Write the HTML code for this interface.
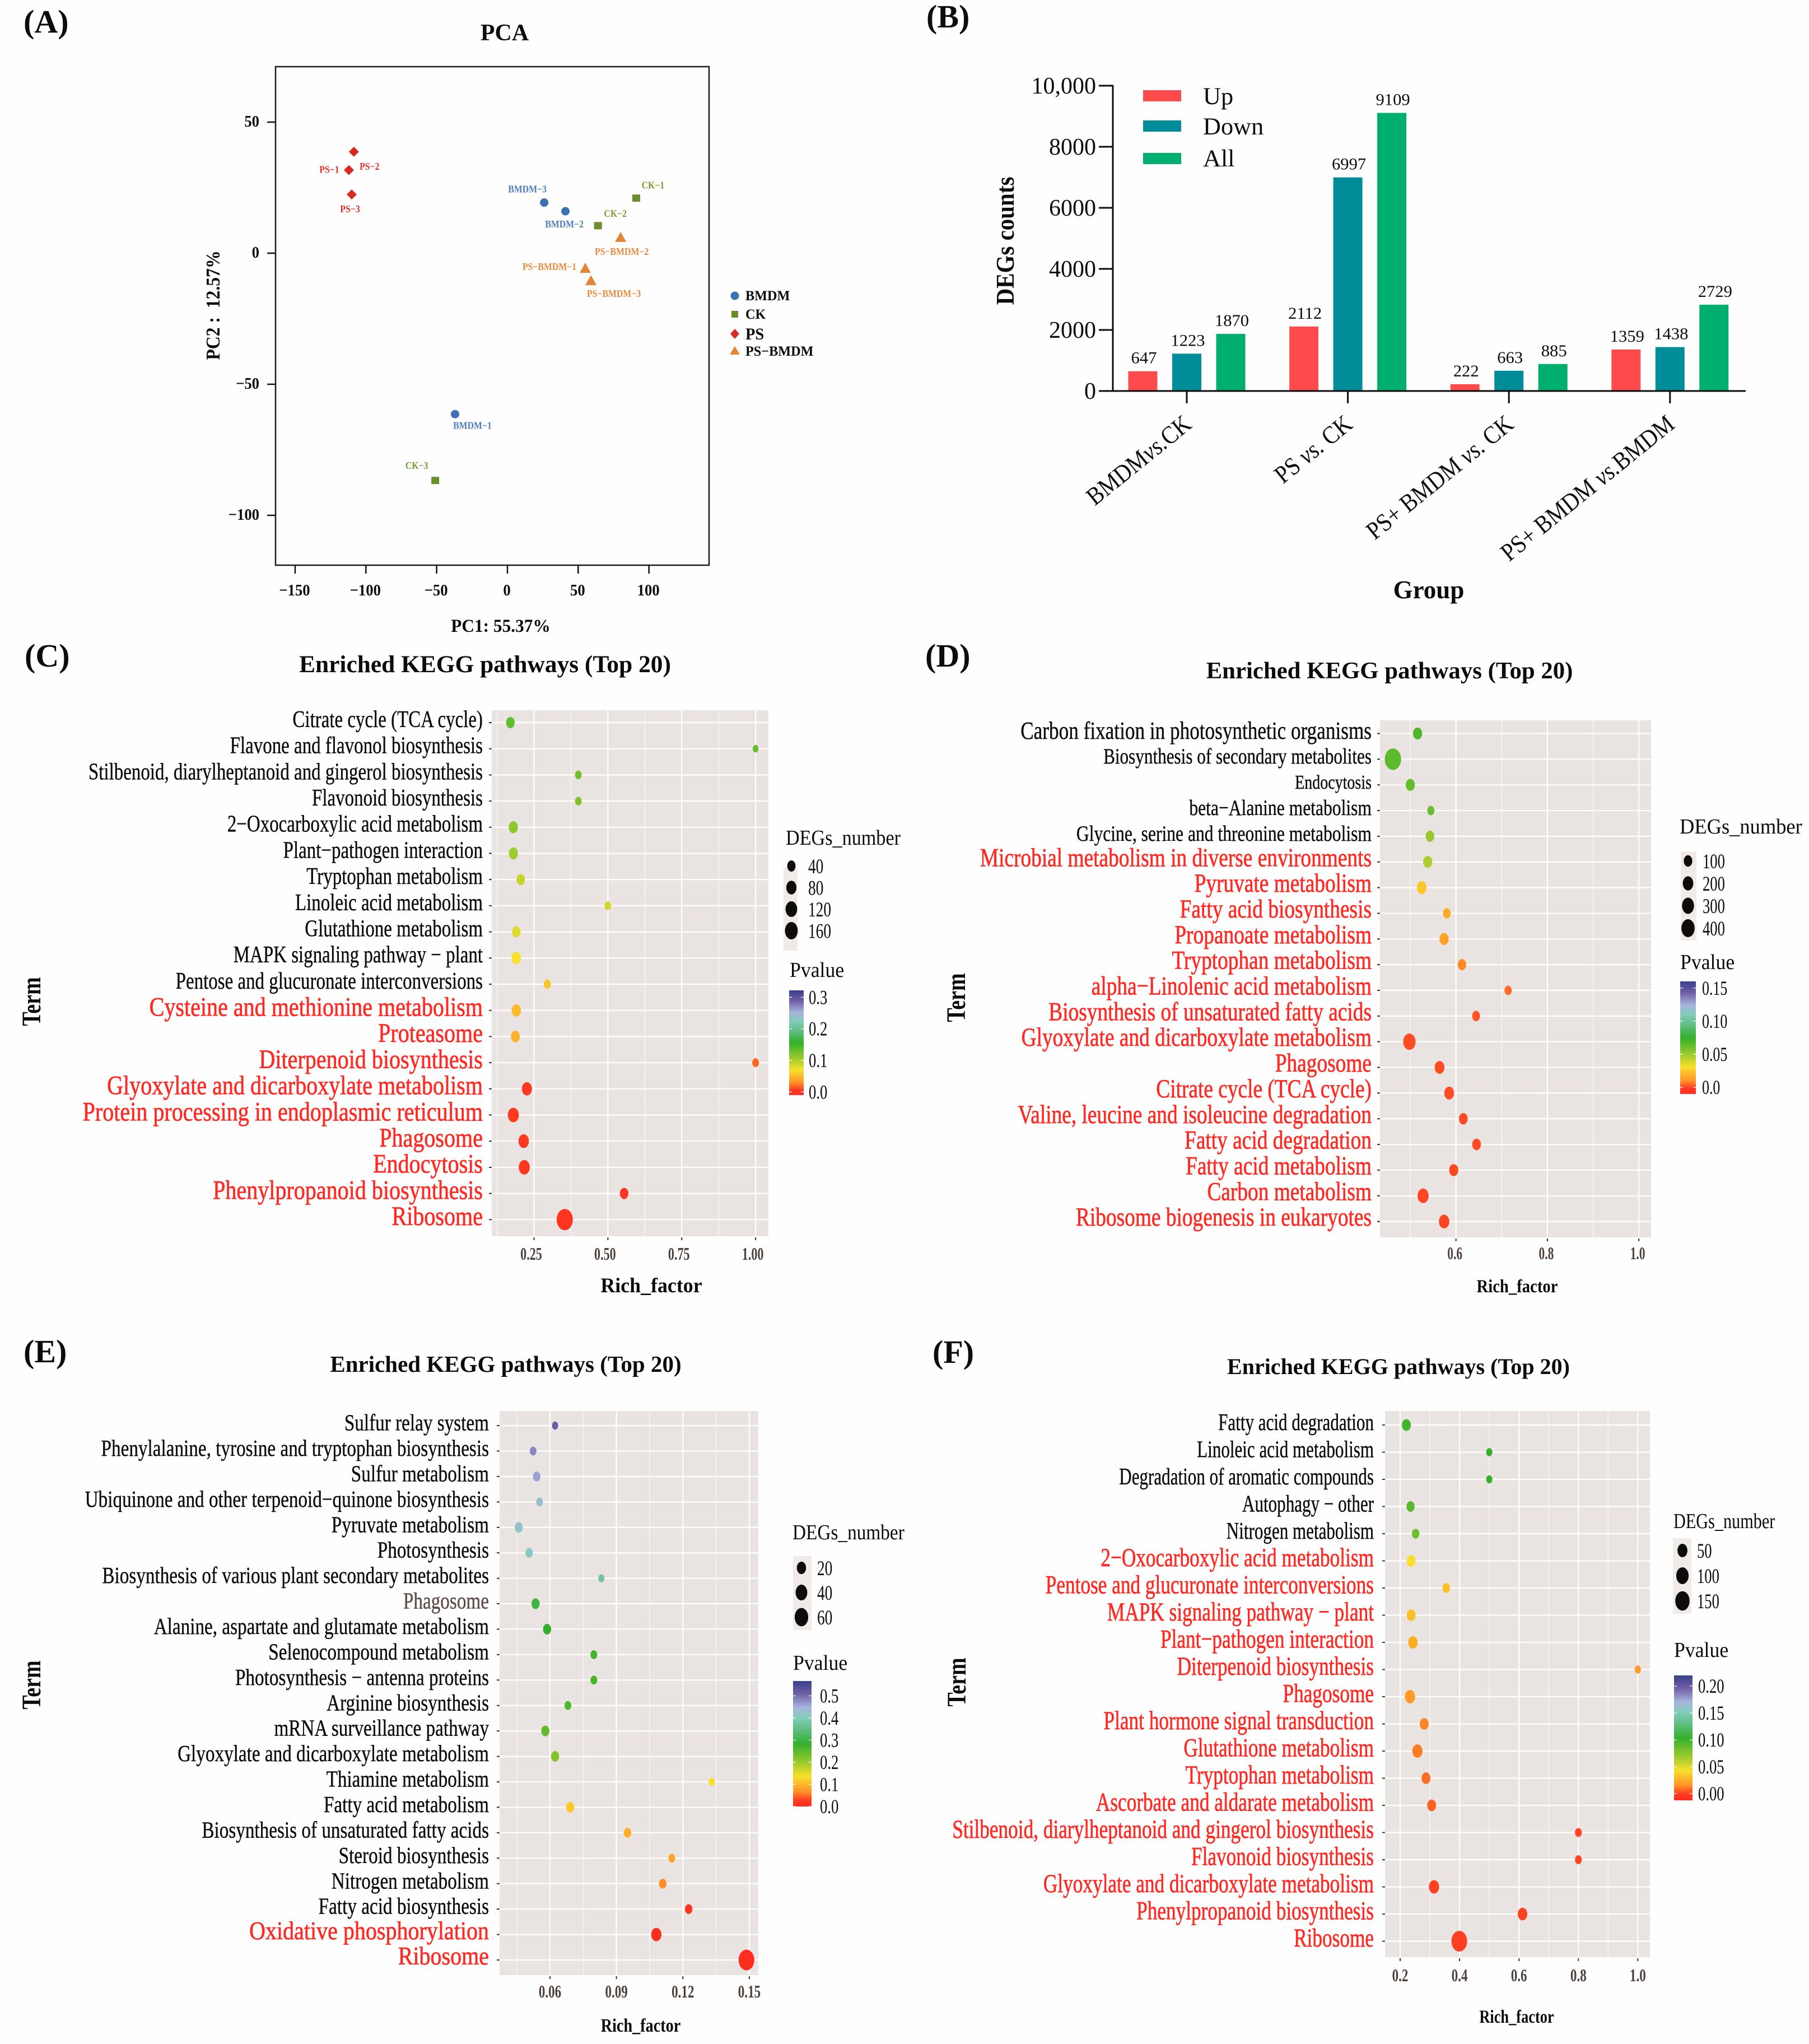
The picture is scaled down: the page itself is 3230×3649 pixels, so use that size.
<!DOCTYPE html>
<html lang="en">
<head>
<meta charset="utf-8">
<title>PCA, DEG counts and KEGG enrichment figure</title>
<style>
html,body{margin:0;padding:0;background:#fff;}
svg{display:block;font-family:"Liberation Serif","Times New Roman",serif;}
text{white-space:pre;}
</style>
</head>
<body>
<svg id="figure" xmlns="http://www.w3.org/2000/svg" width="3230" height="3649" viewBox="0 0 3230 3649">
<rect x="0" y="0" width="3230" height="3649" fill="#fffefe"/>
<defs id="defs"></defs>
</svg>
<script>
/* ---------- Panel A data ---------- */
const pcaSamples = ["BMDM-1","BMDM-2","BMDM-3","CK-1","CK-2","CK-3","PS-1","PS-2","PS-3","PS-BMDM-1","PS-BMDM-2","PS-BMDM-3"];
const pcaPrinted = ["BMDM−1","BMDM−2","BMDM−3","CK−1","CK−2","CK−3","PS−1","PS−2","PS−3","PS−BMDM−1","PS−BMDM−2","PS−BMDM−3"];
const pcaGroupOf = ["BMDM","BMDM","BMDM","CK","CK","CK","PS","PS","PS","PS-BMDM","PS-BMDM","PS-BMDM"];
const pcaPC1 = [-37,41,26,91,64,-51,-112,-108.5,-110,55,80,59];
const pcaPC2 = [-61.4,16,19.3,21,10.5,-86.7,31.7,38.7,22.4,-5.8,6,-10.5];
const pcaLegendGroups = ["BMDM","CK","PS","PS−BMDM"];
const pcaXTicks = [-150,-100,-50,0,50,100];
const pcaYTicks = [50,0,-50,-100];

/* ---------- Panel B data ---------- */
const degGroups = [["BMDM","vs.","CK"],["PS ","vs."," CK"],["PS+ BMDM ","vs."," CK"],["PS+ BMDM ","vs.","BMDM"]];
const degUp = [647,2112,222,1359];
const degDown = [1223,6997,663,1438];
const degAll = [1870,9109,885,2826];
const degUpPrinted = ["647","2112","222","1359"];
const degDownPrinted = ["1223","6997","663","1438"];
const degAllPrinted = ["1870","9109","885","2729"];
const degYTicks = [0,2000,4000,6000,8000,10000];
const degYTickLabels = ["0","2000","4000","6000","8000","10,000"];
const degSeriesNames = ["Up","Down","All"];

/* ---------- Panel C data ---------- */
const cTerms = ["Citrate cycle (TCA cycle)","Flavone and flavonol biosynthesis","Stilbenoid, diarylheptanoid and gingerol biosynthesis","Flavonoid biosynthesis","2−Oxocarboxylic acid metabolism","Plant−pathogen interaction","Tryptophan metabolism","Linoleic acid metabolism","Glutathione metabolism","MAPK signaling pathway − plant","Pentose and glucuronate interconversions","Cysteine and methionine metabolism","Proteasome","Diterpenoid biosynthesis","Glyoxylate and dicarboxylate metabolism","Protein processing in endoplasmic reticulum","Phagosome","Endocytosis","Phenylpropanoid biosynthesis","Ribosome"];
const cRich = [.17,1,.40,.40,.18,.18,.205,.50,.19,.19,.295,.19,.187,1,.226,.18,.215,.217,.555,.354];
const cPvalue = [.135,.13,.125,.12,.115,.105,.09,.085,.08,.07,.055,.05,.045,.018,.005,.005,.004,.003,.002,0];
const cCount = [40,7,14,14,51,51,40,14,40,55,20,55,45,16,72,96,80,96,40,278];
const cXTicks = [.25,.5,.75,1];
const cXTickLabels = ["0.25","0.50","0.75","1.00"];
const cSizeLegend = [40,80,120,160];
const cPvalueTicks = [0,.1,.2,.3];
const cPvalueTickLabels = ["0.0","0.1","0.2","0.3"];

/* ---------- Panel D data ---------- */
const dTerms = ["Carbon fixation in photosynthetic organisms","Biosynthesis of secondary metabolites","Endocytosis","beta−Alanine metabolism","Glycine, serine and threonine metabolism","Microbial metabolism in diverse environments","Pyruvate metabolism","Fatty acid biosynthesis","Propanoate metabolism","Tryptophan metabolism","alpha−Linolenic acid metabolism","Biosynthesis of unsaturated fatty acids","Glyoxylate and dicarboxylate metabolism","Phagosome","Citrate cycle (TCA cycle)","Valine, leucine and isoleucine degradation","Fatty acid degradation","Fatty acid metabolism","Carbon metabolism","Ribosome biogenesis in eukaryotes"];
const dRich = [.516,.462,.50,.545,.543,.538,.525,.58,.574,.613,.714,.644,.498,.564,.585,.616,.645,.595,.528,.574];
const dPvalue = [.068,.065,.063,.061,.051,.046,.024,.016,.014,.009,.005,.002,.001,.001,.0008,.0007,.0006,.0004,.0003,.0002];
const dCount = [115,656,115,45,90,115,146,65,115,90,45,65,307,146,146,100,100,115,217,182];
const dXTicks = [.6,.8,1];
const dXTickLabels = ["0.6","0.8","1.0"];
const dSizeLegend = [100,200,300,400];
const dPvalueTicks = [0,.05,.1,.15];
const dPvalueTickLabels = ["0.0","0.05","0.10","0.15"];

/* ---------- Panel E data ---------- */
const eTerms = ["Sulfur relay system","Phenylalanine, tyrosine and tryptophan biosynthesis","Sulfur metabolism","Ubiquinone and other terpenoid−quinone biosynthesis","Pyruvate metabolism","Photosynthesis","Biosynthesis of various plant secondary metabolites","Phagosome","Alanine, aspartate and glutamate metabolism","Selenocompound metabolism","Photosynthesis − antenna proteins","Arginine biosynthesis","mRNA surveillance pathway","Glyoxylate and dicarboxylate metabolism","Thiamine metabolism","Fatty acid metabolism","Biosynthesis of unsaturated fatty acids","Steroid biosynthesis","Nitrogen metabolism","Fatty acid biosynthesis","Oxidative phosphorylation","Ribosome"];
const eRich = [.0623,.0524,.054,.0553,.0459,.0506,.0832,.0535,.0587,.0798,.0798,.0681,.0579,.0623,.133,.0691,.095,.115,.1109,.1226,.108,.1487];
const ePvalue = [.51,.48,.46,.43,.42,.41,.375,.30,.285,.27,.265,.26,.245,.22,.135,.115,.09,.082,.065,.02,.006,0];
const eCount = [4,6,9,6,12,9,4,12,12,6,6,6,12,12,4,12,9,6,9,9,25,82];
const eXTicks = [.06,.09,.12,.15];
const eXTickLabels = ["0.06","0.09","0.12","0.15"];
const eSizeLegend = [20,40,60];
const ePvalueTicks = [0,.1,.2,.3,.4,.5];
const ePvalueTickLabels = ["0.0","0.1","0.2","0.3","0.4","0.5"];

/* ---------- Panel F data ---------- */
const fTerms = ["Fatty acid degradation","Linoleic acid metabolism","Degradation of aromatic compounds","Autophagy − other","Nitrogen metabolism","2−Oxocarboxylic acid metabolism","Pentose and glucuronate interconversions","MAPK signaling pathway − plant","Plant−pathogen interaction","Diterpenoid biosynthesis","Phagosome","Plant hormone signal transduction","Glutathione metabolism","Tryptophan metabolism","Ascorbate and aldarate metabolism","Stilbenoid, diarylheptanoid and gingerol biosynthesis","Flavonoid biosynthesis","Glyoxylate and dicarboxylate metabolism","Phenylpropanoid biosynthesis","Ribosome"];
const fRich = [.221,.50,.50,.235,.252,.237,.355,.237,.243,1,.233,.281,.258,.287,.306,.80,.80,.314,.612,.399];
const fPvalue = [.099,.104,.104,.092,.085,.043,.032,.032,.025,.018,.018,.013,.011,.008,.006,.001,.001,.0005,.0005,0];
const fCount = [31,6,6,22,15,31,15,31,40,6,50,31,50,31,31,10,10,50,40,180];
const fXTicks = [.2,.4,.6,.8,1];
const fXTickLabels = ["0.2","0.4","0.6","0.8","1.0"];
const fSizeLegend = [50,100,150];
const fPvalueTicks = [0,.05,.1,.15,.2];
const fPvalueTickLabels = ["0.00","0.05","0.10","0.15","0.20"];

/* ---------- helpers ---------- */
const NS = "http://www.w3.org/2000/svg";
const root = document.getElementById("figure");
const defs = document.getElementById("defs");

function shape(parent, tag, name, attrs) {
  const el = document.createElementNS(NS, tag);
  for (const k in attrs) el.setAttribute(k, attrs[k]);
  
  
  parent.appendChild(el);
  return el;
}
function group(parent, name) {
  const el = document.createElementNS(NS, "g");
  
  
  parent.appendChild(el);
  return el;
}
function label(parent, name, str, x, y, size, o) {
  o = o || {};
  const el = document.createElementNS(NS, "text");
  const sx = o.sx || 1, sy = o.sy || 1, rot = o.rot || 0;
  el.setAttribute("transform", "translate(" + x + "," + y + ")" + (rot ? " rotate(" + rot + ")" : "") + " scale(" + sx + "," + sy + ")");
  el.setAttribute("font-size", size);
  el.setAttribute("text-anchor", o.anchor || "start");
  el.setAttribute("fill", o.fill || "#0c0c0c");
  if (o.bold) el.setAttribute("font-weight", "bold");
  if (o.stroke) { el.setAttribute("stroke", o.fill || "#0c0c0c"); el.setAttribute("stroke-width", o.stroke); }
  el.textContent = str;
  
  
  parent.appendChild(el);
  return el;
}
function slug(s) { return String(s).toLowerCase().replace(/[^a-z0-9]+/g, "-").replace(/^-|-$/g, ""); }

/* Panel letters */
const panelLetters = [["(A)",42,58],["(B)",1654,49],["(C)",44,1190],["(D)",1652,1190],["(E)",42,2432],["(F)",1665,2433]];
panelLetters.forEach(function (p) {
  label(root, "panel-label-" + p[0].charAt(1).toLowerCase(), p[0], p[1], p[2], 58, { bold: true });
});

/* ---------- Panel A: PCA ---------- */
(function () {
  const g = group(root, "panel-a-pca");
  const frame = { l: 492, r: 1266, t: 119, b: 1009 };
  const xPos = v => 906 + v * 2.527;
  const yPos = v => 452 - v * 4.68;
  const colors = { "BMDM": "#3c72b4", "CK": "#6b8e2a", "PS": "#d92a22", "PS-BMDM": "#e48436" };
  const labelColors = { "BMDM": "#4b7fbd", "CK": "#7a9a30", "PS": "#e8302a", "PS-BMDM": "#ea8a3e" };
  /* label layout offsets from each marker (not data) */
  const labelLayout = [[31,26],[-2,29],[-30,-18],[30,-17],[31,-16],[-33,-21],[-35,5],[28,32],[-3,32],[-64,3],[2,31],[41,29]];

  function marker(parent, name, grp, x, y) {
    const fill = colors[grp];
    if (grp === "BMDM") return shape(parent, "ellipse", name, { cx: x, cy: y, rx: 7.5, ry: 7.5, fill: fill });
    if (grp === "CK") return shape(parent, "rect", name, { x: x - 7, y: y - 6.5, width: 14, height: 13, fill: fill });
    if (grp === "PS") return shape(parent, "polygon", name, { points: [x, y - 9, x + 9, y, x, y + 9, x - 9, y].join(","), fill: fill });
    return shape(parent, "polygon", name, { points: [x, y - 10, x + 10, y + 8, x - 10, y + 8].join(","), fill: fill });
  }

  label(g, "pca-title", "PCA", 901, 72, 42, { bold: true, anchor: "middle" });
  shape(g, "rect", "pca-plot-frame", { x: frame.l, y: frame.t, width: frame.r - frame.l, height: frame.b - frame.t, fill: "none", stroke: "#1a1a1a", "stroke-width": 2.5 });
  pcaXTicks.forEach(function (v) {
    shape(g, "line", "pca-x-tick", { x1: xPos(v), x2: xPos(v), y1: frame.b, y2: frame.b + 15, stroke: "#111", "stroke-width": 2.5 });
    label(g, "pca-x-tick-label", String(v).replace("-", "−"), xPos(v) - 1, 1063, 29, { bold: true, anchor: "middle", sx: .92 });
  });
  pcaYTicks.forEach(function (v) {
    shape(g, "line", "pca-y-tick", { x1: frame.l - 15, x2: frame.l, y1: yPos(v), y2: yPos(v), stroke: "#111", "stroke-width": 2.5 });
    label(g, "pca-y-tick-label", String(v).replace("-", "−"), 463, yPos(v) + 8, 29, { bold: true, anchor: "end", sx: .92 });
  });
  pcaSamples.forEach(function (s, i) {
    const x = xPos(pcaPC1[i]), y = yPos(pcaPC2[i]), grp = pcaGroupOf[i];
    marker(g, "pca-point-" + slug(s), grp, x, y);
    label(g, "pca-point-label-" + slug(s), pcaPrinted[i], x + labelLayout[i][0], y + labelLayout[i][1], 18, { bold: true, anchor: "middle", fill: labelColors[grp], sx: .88 });
  });
  label(g, "pca-x-axis-title", "PC1: 55.37%", 894, 1128, 33, { bold: true, anchor: "middle", sx: .95 });
  label(g, "pca-y-axis-title", "PC2 :  12.57%", 392, 545, 33, { bold: true, anchor: "middle", rot: -90, sx: .96, sy: 1.05 });

  const legendY = [528, 561, 596, 627];
  const legendKeys = ["BMDM", "CK", "PS", "PS-BMDM"];
  legendKeys.forEach(function (k, i) {
    const cell = group(g, "pca-legend-entry-" + slug(k));
    if (k === "BMDM") shape(cell, "ellipse", "pca-legend-marker", { cx: 1312, cy: legendY[i], rx: 7.5, ry: 7.5, fill: colors[k] });
    else if (k === "CK") shape(cell, "rect", "pca-legend-marker", { x: 1306, y: legendY[i] - 6, width: 12, height: 12, fill: colors[k] });
    else if (k === "PS") shape(cell, "polygon", "pca-legend-marker", { points: [1312, legendY[i] - 9, 1320, legendY[i], 1312, legendY[i] + 9, 1304, legendY[i]].join(","), fill: colors[k] });
    else shape(cell, "polygon", "pca-legend-marker", { points: [1312, legendY[i] - 9, 1321, legendY[i] + 6, 1303, legendY[i] + 6].join(","), fill: colors[k] });
    label(cell, "pca-legend-label", pcaLegendGroups[i], 1331, legendY[i] + (k === "PS" ? 10 : 8), k === "PS" ? 30 : 25, { bold: true, sx: k === "PS" ? .95 : .97 });
  });
})();

/* ---------- Panel B: grouped bars ---------- */
(function () {
  const g = group(root, "panel-b-deg-bars");
  const yPos = v => 698 - v * 0.0545;
  const groupX = i => 2119 + i * 287.6;
  const barW = 52, offs = [-78.5, 0, 78.5];
  const fills = ["#ff4b4c", "#008c99", "#00ae6e"];
  const series = [degUp, degDown, degAll];
  const printed = [degUpPrinted, degDownPrinted, degAllPrinted];

  degYTicks.forEach(function (v, i) {
    shape(g, "line", "deg-y-tick", { x1: 1962, x2: 1987, y1: yPos(v), y2: yPos(v), stroke: "#0c0c0c", "stroke-width": 3 });
    label(g, "deg-y-tick-label", degYTickLabels[i], 1957, yPos(v) + 14, 42, { anchor: "end" });
  });
  series.forEach(function (vals, s) {
    vals.forEach(function (v, i) {
      const cx = groupX(i) + offs[s];
      shape(g, "rect", "deg-bar-" + slug(degSeriesNames[s]) + "-" + (i + 1), { x: cx - barW / 2, y: yPos(v), width: barW, height: 698 - yPos(v), fill: fills[s] });
      label(g, "deg-bar-value", printed[s][i], cx + 2, yPos(v) - 14, 30, { anchor: "middle", sx: 1.02 });
    });
  });
  shape(g, "line", "deg-y-axis", { x1: 1987, x2: 1987, y1: 152, y2: 698, stroke: "#0c0c0c", "stroke-width": 3 });
  shape(g, "line", "deg-x-axis", { x1: 1962, x2: 3117, y1: 698, y2: 698, stroke: "#0c0c0c", "stroke-width": 3 });
  degGroups.forEach(function (parts, i) {
    const x = groupX(i);
    shape(g, "line", "deg-x-tick", { x1: x, x2: x, y1: 698, y2: 720, stroke: "#0c0c0c", "stroke-width": 3 });
    const t = label(g, "deg-group-label-" + (i + 1), "", x + 11, 762, 40, { anchor: "end", rot: -39, sy: 1.12 });
    parts.forEach(function (part, k) {
      const sp = document.createElementNS(NS, "tspan");
      if (k === 1) sp.setAttribute("font-style", "italic");
      sp.textContent = part;
      t.appendChild(sp);
    });
  });
  const legY = [171, 225, 283];
  degSeriesNames.forEach(function (n, i) {
    const cell = group(g, "deg-legend-entry-" + slug(n));
    shape(cell, "rect", "deg-legend-swatch", { x: 2041, y: legY[i] - 10, width: 68, height: 20, fill: fills[i] });
    label(cell, "deg-legend-label", n, 2148, legY[i] + (i === 2 ? 14 : 15), 43, { sx: 1.03 });
  });
  label(g, "deg-y-axis-title", "DEGs counts", 1810, 430, 41, { bold: true, anchor: "middle", rot: -90, sy: 1.1 });
  label(g, "deg-x-axis-title", "Group", 2551, 1068, 45, { bold: true, anchor: "middle" });
})();

/* ---------- Bubble panels ---------- */
const gradStops = [[0,"#ff2c20"],[.05,"#ff3a22"],[.12,"#ff9428"],[.24,"#f9e02c"],[.34,"#a4cc2e"],[.5,"#33b02c"],[.62,"#63bf88"],[.71,"#84ccbc"],[.79,"#a6b4dc"],[.9,"#6f5da6"],[1,"#38408c"]];
function hex2(c, i) { return parseInt(c.substr(i, 2), 16); }
function colorAt(t) {
  t = Math.max(0, Math.min(1, t));
  for (let i = 1; i < gradStops.length; i++) {
    if (t <= gradStops[i][0]) {
      const a = gradStops[i - 1], b = gradStops[i], f = (t - a[0]) / (b[0] - a[0]);
      const mix = k => Math.round(hex2(a[1], k) + (hex2(b[1], k) - hex2(a[1], k)) * f);
      return "rgb(" + mix(1) + "," + mix(3) + "," + mix(5) + ")";
    }
  }
  return gradStops[gradStops.length - 1][1];
}

function bubblePanel(c) {
  const g = group(root, c.id);
  const p = c.plot;
  const xPos = v => c.x0 + (v - c.v0) * c.k;
  const yPos = i => c.rowTop + i * c.rowStep;
  const tOf = v => (v - c.pMin) / (c.pMax - c.pMin);
  const ryOf = n => c.sizeA + c.sizeB * Math.sqrt(n);

  label(g, c.key + "-title", "Enriched KEGG pathways (Top 20)", c.titleX, c.titleY, c.titleSize, { bold: true, anchor: "middle" });
  shape(g, "rect", c.key + "-plot-background", { x: p.l, y: p.t, width: p.r - p.l, height: p.b - p.t, fill: "#e9e4e1" });

  const stepV = c.xTicks[1] - c.xTicks[0];
  let minorV = c.xTicks[0] - stepV / 2;
  while (xPos(minorV) > p.l) minorV -= stepV;
  for (minorV += stepV; xPos(minorV) < p.r; minorV += stepV) {
    shape(g, "line", c.key + "-minor-gridline", { x1: xPos(minorV), x2: xPos(minorV), y1: p.t, y2: p.b, stroke: "#f7f5f3", "stroke-width": 1.5 });
  }
  c.xTicks.forEach(function (v) {
    shape(g, "line", c.key + "-major-gridline-x", { x1: xPos(v), x2: xPos(v), y1: p.t, y2: p.b, stroke: "#fff", "stroke-width": 2.2 });
  });
  c.terms.forEach(function (term, i) {
    const y = yPos(i);
    shape(g, "line", c.key + "-major-gridline-y", { x1: p.l, x2: p.r, y1: y, y2: y, stroke: "#fff", "stroke-width": 2.2 });
    shape(g, "line", c.key + "-term-tick", { x1: p.l - 5, x2: p.l, y1: y, y2: y, stroke: "#333", "stroke-width": 2 });
    const red = i >= c.redFrom;
    const base = red ? c.redSize : c.blackSize;
    const size = (c.sizeOverride && c.sizeOverride[term]) || base;
    const fill = red ? "#ff2a24" : (c.grayTerm === i ? "#5e4c46" : "#0c0c0c");
    label(g, c.key + "-term-label-" + slug(term), term, c.termX, y + size * .33 + (red ? c.redDy : c.termDy), size, { anchor: "end", fill: fill, sx: red ? c.redSx : c.blackSx, stroke: red ? .7 : .4 });
  });
  c.xTicks.forEach(function (v, i) {
    shape(g, "line", c.key + "-x-tick", { x1: xPos(v), x2: xPos(v), y1: p.b + 2, y2: p.b + 7, stroke: "#333", "stroke-width": 2 });
    label(g, c.key + "-x-tick-label", c.xLabels[i], xPos(v) + c.tickDx, c.tickY, c.tickSize, { anchor: "middle", fill: "#4d3f3a", bold: true, sx: c.tickSx });
  });
  c.rich.forEach(function (v, i) {
    const ry = ryOf(c.count[i]);
    shape(g, "ellipse", c.key + "-dot-" + slug(c.terms[i]), { cx: xPos(v), cy: yPos(i), rx: ry * .76, ry: ry, fill: colorAt(tOf(c.pvalue[i])) });
  });
  label(g, c.key + "-x-axis-title", "Rich_factor", c.xTitleX, c.xTitleY, c.xTitleSize, { bold: true, anchor: "middle", sx: c.xTitleSx });
  label(g, c.key + "-y-axis-title", "Term", c.yTitleX, c.yTitleY, 38, { bold: true, anchor: "middle", rot: -90, sy: 1.25 });

  /* size legend */
  const s = c.sizeLeg;
  label(g, c.key + "-size-legend-title", "DEGs_number", s.titleX, s.titleY, 38, { sx: s.titleSx });
  shape(g, "rect", c.key + "-size-legend-key", { x: s.keyL, y: s.keyT, width: s.keyW, height: s.keyH, fill: "#f0ebe8" });
  c.sizeLegend.forEach(function (n, i) {
    const ry = ryOf(n);
    const cy = s.y0 + i * s.step;
    const cell = group(g, c.key + "-size-legend-entry-" + n);
    shape(cell, "ellipse", c.key + "-size-legend-dot", { cx: s.dotX, cy: cy, rx: ry * .74, ry: ry, fill: "#0e0c0b" });
    label(cell, c.key + "-size-legend-label", String(n), s.labelX, cy + 13, 37, { sx: s.labelSx });
  });

  /* colour legend */
  const b = c.colorLeg;
  label(g, c.key + "-pvalue-legend-title", "Pvalue", b.titleX, b.titleY, 38, { sx: .94 });
  const gid = c.key + "-grad";
  const grad = shape(defs, "linearGradient", c.key + "-pvalue-gradient", { id: gid, x1: 0, y1: 1, x2: 0, y2: 0 });
  gradStops.forEach(function (st) {
    shape(grad, "stop", c.key + "-gradient-stop", { offset: st[0], "stop-color": st[1] });
  });
  shape(g, "rect", c.key + "-pvalue-colorbar", { x: b.l, y: b.t, width: b.w, height: b.b - b.t, fill: "url(#" + gid + ")" });
  const barY = v => b.b - tOf(v) * (b.b - b.t);
  c.pTicks.forEach(function (v, i) {
    const y = barY(v);
    shape(g, "line", c.key + "-colorbar-tick", { x1: b.l, x2: b.l + 5, y1: y, y2: y, stroke: "#fff", "stroke-width": 1.2 });
    shape(g, "line", c.key + "-colorbar-tick", { x1: b.l + b.w - 5, x2: b.l + b.w, y1: y, y2: y, stroke: "#fff", "stroke-width": 1.2 });
    label(g, c.key + "-pvalue-legend-label", c.pLabels[i], b.labelX, y + 12, 36, { sx: b.labelSx });
  });
}

bubblePanel({
  id: "panel-c-kegg", key: "kegg-c",
  terms: cTerms, rich: cRich, pvalue: cPvalue, count: cCount,
  xTicks: cXTicks, xLabels: cXTickLabels, sizeLegend: cSizeLegend, pTicks: cPvalueTicks, pLabels: cPvalueTickLabels,
  plot: { l: 878, r: 1372, t: 1268, b: 2207 }, x0: 953.5, v0: .25, k: 527.5, rowTop: 1290, rowStep: 46.7,
  redFrom: 11, blackSize: 42, redSize: 48, blackSx: .785, redSx: .835, termX: 862, termDy: -6, redDy: -6,
  titleX: 866, titleY: 1200, titleSize: 43.4,
  tickDx: -5, tickY: 2249, tickSize: 32, tickSx: .69,
  xTitleX: 1163, xTitleY: 2307, xTitleSize: 37, xTitleSx: .97, yTitleX: 72, yTitleY: 1788,
  sizeA: 4.5, sizeB: .87, pMin: -.01, pMax: .322,
  sizeLeg: { titleX: 1403, titleY: 1508, titleSx: .9, keyL: 1399, keyT: 1548, keyW: 25, keyH: 149, dotX: 1413, y0: 1546, step: 38.5, labelX: 1443, labelSx: .74 },
  colorLeg: { titleX: 1410, titleY: 1744, l: 1409, w: 26, t: 1768, b: 1955, labelX: 1444, labelSx: .74 }
});

bubblePanel({
  id: "panel-d-kegg", key: "kegg-d",
  terms: dTerms, rich: dRich, pvalue: dPvalue, count: dCount,
  xTicks: dXTicks, xLabels: dXTickLabels, sizeLegend: dSizeLegend, pTicks: dPvalueTicks, pLabels: dPvalueTickLabels,
  plot: { l: 2464, r: 2948, t: 1286, b: 2209 }, x0: 2599.7, v0: .6, k: 816, rowTop: 1309.5, rowStep: 45.85,
  redFrom: 5, blackSize: 40, redSize: 47, blackSx: .8, redSx: .795, termX: 2449, termDy: -5, redDy: -8,
  sizeOverride: { "Carbon fixation in photosynthetic organisms": 44, "Biosynthesis of secondary metabolites": 39, "Endocytosis": 35, "beta−Alanine metabolism": 39.5, "Glycine, serine and threonine metabolism": 39.5, "Phagosome": 47 },
  titleX: 2481, titleY: 1211, titleSize: 42.8,
  tickDx: -2, tickY: 2248, tickSize: 32, tickSx: .67,
  xTitleX: 2709, xTitleY: 2307, xTitleSize: 33, xTitleSx: .87, yTitleX: 1723, yTitleY: 1781,
  sizeA: 4.6, sizeB: .57, pMin: -.01, pMax: .16,
  sizeLeg: { titleX: 2999, titleY: 1488, titleSx: .96, keyL: 3001, keyT: 1520, keyW: 28, keyH: 159, dotX: 3014, y0: 1537, step: 40, labelX: 3040, labelSx: .72 },
  colorLeg: { titleX: 3000, titleY: 1730, l: 3000, w: 28, t: 1752, b: 1953, labelX: 3039, labelSx: .72 }
});

bubblePanel({
  id: "panel-e-kegg", key: "kegg-e",
  terms: eTerms, rich: eRich, pvalue: ePvalue, count: eCount,
  xTicks: eXTicks, xLabels: eXTickLabels, sizeLegend: eSizeLegend, pTicks: ePvalueTicks, pLabels: ePvalueTickLabels,
  plot: { l: 892, r: 1354, t: 2519, b: 3526 }, x0: 982, v0: .06, k: 3955, rowTop: 2545, rowStep: 45.43,
  redFrom: 20, grayTerm: 7, blackSize: 41, redSize: 46, blackSx: .81, redSx: .87, termX: 873, termDy: -5, redDy: -7,
  titleX: 903, titleY: 2449, titleSize: 41,
  tickDx: 0, tickY: 3566, tickSize: 32, tickSx: .72,
  xTitleX: 1144, xTitleY: 3627, xTitleSize: 34, xTitleSx: .83, yTitleX: 72, yTitleY: 3008,
  sizeA: 4, sizeB: 1.6, pMin: 0, pMax: .567,
  sizeLeg: { titleX: 1415, titleY: 2748, titleSx: .877, keyL: 1416, keyT: 2778, keyW: 33, keyH: 132, dotX: 1431, y0: 2799, step: 44, labelX: 1459, labelSx: .74 },
  colorLeg: { titleX: 1416, titleY: 2981, l: 1416, w: 33, t: 3001, b: 3225, labelX: 1464, labelSx: .74 }
});

bubblePanel({
  id: "panel-f-kegg", key: "kegg-f",
  terms: fTerms, rich: fRich, pvalue: fPvalue, count: fCount,
  xTicks: fXTicks, xLabels: fXTickLabels, sizeLegend: fSizeLegend, pTicks: fPvalueTicks, pLabels: fPvalueTickLabels,
  plot: { l: 2473, r: 2946, t: 2519, b: 3494 }, x0: 2500, v0: .2, k: 530.4, rowTop: 2544, rowStep: 48.5,
  redFrom: 5, blackSize: 42, redSize: 47, blackSx: .74, redSx: .75, termX: 2453, termDy: -5, redDy: -6,
  titleX: 2497, titleY: 2453, titleSize: 40,
  tickDx: 0, tickY: 3537, tickSize: 32, tickSx: .72,
  xTitleX: 2708, xTitleY: 3611, xTitleSize: 33, xTitleSx: .8, yTitleX: 1724, yTitleY: 3003,
  sizeA: 4.8, sizeB: 1.02, pMin: -.0126, pMax: .22,
  sizeLeg: { titleX: 2988, titleY: 2728, titleSx: .796, keyL: 2987, keyT: 2746, keyW: 33, keyH: 135, dotX: 3004, y0: 2768, step: 45, labelX: 3030, labelSx: .72 },
  colorLeg: { titleX: 2989, titleY: 2958, l: 2989, w: 33, t: 2991, b: 3214, labelX: 3032, labelSx: .74 }
});
</script>
</body>
</html>
